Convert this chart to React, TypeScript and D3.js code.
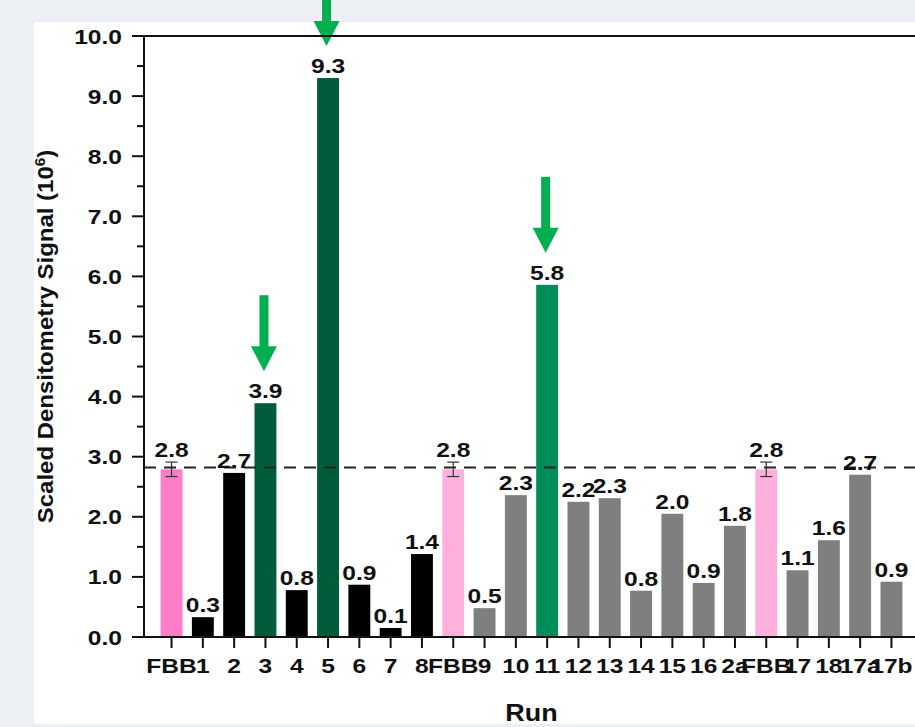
import React from "react";
import * as d3 from "d3";

// ---------- data ----------
const categories = ["FBB", "1", "2", "3", "4", "5", "6", "7", "8", "FBB", "9", "10", "11", "12", "13", "14", "15", "16", "2a", "FBB", "17", "18", "17a", "17b"];
const values = [2.79, 0.33, 2.73, 3.89, 0.78, 9.3, 0.87, 0.15, 1.38, 2.79, 0.48, 2.36, 5.86, 2.25, 2.31, 0.77, 2.05, 0.9, 1.85, 2.79, 1.11, 1.61, 2.7, 0.92];
const valueLabels = ["2.8", "0.3", "2.7", "3.9", "0.8", "9.3", "0.9", "0.1", "1.4", "2.8", "0.5", "2.3", "5.8", "2.2", "2.3", "0.8", "2.0", "0.9", "1.8", "2.8", "1.1", "1.6", "2.7", "0.9"];
const errors = [0.12, 0, 0, 0, 0, 0, 0, 0, 0, 0.12, 0, 0, 0, 0, 0, 0, 0, 0, 0, 0.12, 0, 0, 0, 0];
const groups = ["fbbA", "black", "black", "darkGreen", "black", "darkGreen", "black", "black", "black", "fbbB", "gray", "gray", "green", "gray", "gray", "gray", "gray", "gray", "gray", "fbbB", "gray", "gray", "gray", "gray"];
const arrowIndices = [3, 5, 12];
const referenceLevel = 2.82;
const yTicks = [0, 1, 2, 3, 4, 5, 6, 7, 8, 9, 10];
const yMinorTicks = [0.5, 1.5, 2.5, 3.5, 4.5, 5.5, 6.5, 7.5, 8.5, 9.5];

const groupColors: Record<string, string> = {
  fbbA: "#ff7cc8",
  fbbB: "#ffb0dc",
  black: "#000000",
  darkGreen: "#005c3b",
  green: "#008c5b",
  gray: "#7f7f7f",
};

const W = 915;
const H = 727;
const FONT = "'Liberation Sans', Arial, Helvetica, sans-serif";
const SX = 1.17;

function HText({ x, y, anchor = "middle", size = 21, children }: any) {
  return (
    <text
      transform={`translate(${x},${y}) scale(${SX},1)`}
      textAnchor={anchor}
      fontFamily={FONT}
      fontWeight="bold"
      fontSize={size}
      fill="#111"
    >
      {children}
    </text>
  );
}

export default function App() {
  const x0 = 144;
  const yBase = 637;
  const yTop = 36;

  const x = d3
    .scaleBand<number>()
    .domain(categories.map((_, i) => i))
    .range([x0, 919])
    .paddingInner(0.3)
    .paddingOuter(0.53);

  const y = d3.scaleLinear().domain([0, 10]).range([yBase, yTop]);
  const fmt = d3.format(".1f");
  const bw = x.bandwidth();
  const cx = (i: number) => (x(i) as number) + bw / 2;

  return (
    <svg width={W} height={H} style={{ position: "absolute", left: 0, top: 0 }}>
      <rect x={0} y={0} width={W} height={H} fill="#eceff4" />
      <rect x={34} y={22} width={W - 34} height={702} fill="#ffffff" />

      {/* bars */}
      {values.map((v, i) => (
        <rect
          key={"b" + i}
          x={x(i)}
          y={y(v)}
          width={bw}
          height={yBase - y(v)}
          fill={groupColors[groups[i]]}
        />
      ))}

      {/* error bars */}
      {values.map((v, i) =>
        errors[i] > 0 ? (
          <g key={"e" + i} stroke="#333" strokeWidth={1.2}>
            <line x1={cx(i)} x2={cx(i)} y1={y(v + errors[i])} y2={y(v - errors[i])} />
            <line x1={cx(i) - 6} x2={cx(i) + 6} y1={y(v + errors[i])} y2={y(v + errors[i])} />
            <line x1={cx(i) - 6} x2={cx(i) + 6} y1={y(v - errors[i])} y2={y(v - errors[i])} />
          </g>
        ) : null
      )}

      {/* reference dashed line */}
      <line
        x1={x0}
        x2={W}
        y1={y(referenceLevel)}
        y2={y(referenceLevel)}
        stroke="#222"
        strokeWidth={2}
        strokeDasharray="12 8"
      />

      {/* value labels */}
      {values.map((v, i) => (
        <HText key={"l" + i} x={cx(i)} y={y(v + errors[i]) - 5}>
          {valueLabels[i]}
        </HText>
      ))}

      {/* arrows */}
      {arrowIndices.map((i) => {
        const tip = y(values[i]) - 32;
        const headLen = 25;
        const len = 76;
        const c = cx(i) - 1.5;
        return (
          <g key={"a" + i} fill="#00b04f">
            <rect x={c - 4.5} y={tip - len} width={9} height={len - headLen + 1} />
            <path d={`M${c - 13},${tip - headLen} L${c + 13},${tip - headLen} L${c},${tip} Z`} />
          </g>
        );
      })}

      {/* axes */}
      <g stroke="#111" strokeWidth={2} fill="none">
        <line x1={x0} x2={x0} y1={yTop} y2={yBase + 1} />
        <line x1={132} x2={W} y1={yBase} y2={yBase} />
        <line x1={x0} x2={W} y1={yTop} y2={yTop} />
        {yTicks.map((t) => (
          <line key={"yt" + t} x1={132} x2={x0} y1={y(t)} y2={y(t)} />
        ))}
        {yMinorTicks.map((t) => (
          <line key={"ym" + t} x1={137} x2={x0} y1={y(t)} y2={y(t)} />
        ))}
        {categories.map((_, i) => (
          <line key={"xt" + i} x1={cx(i)} x2={cx(i)} y1={yBase} y2={yBase + 11} />
        ))}
      </g>

      {yTicks.map((t) => (
        <HText key={"yl" + t} x={122} y={y(t) + 7.5} anchor="end">
          {fmt(t)}
        </HText>
      ))}

      {categories.map((c, i) => (
        <HText key={"xl" + i} x={cx(i)} y={673}>
          {c}
        </HText>
      ))}

      <HText x={(x0 + 919) / 2} y={721} size={23}>
        Run
      </HText>

      <text
        transform={`translate(53,${(yTop + yBase) / 2}) rotate(-90) scale(1.09,1)`}
        textAnchor="middle"
        fontFamily={FONT}
        fontWeight="bold"
        fontSize={22}
        fill="#111"
      >
        Scaled Densitometry Signal (10
        <tspan dy={-8} fontSize={14}>
          6
        </tspan>
        <tspan dy={8}>)</tspan>
      </text>
    </svg>
  );
}
